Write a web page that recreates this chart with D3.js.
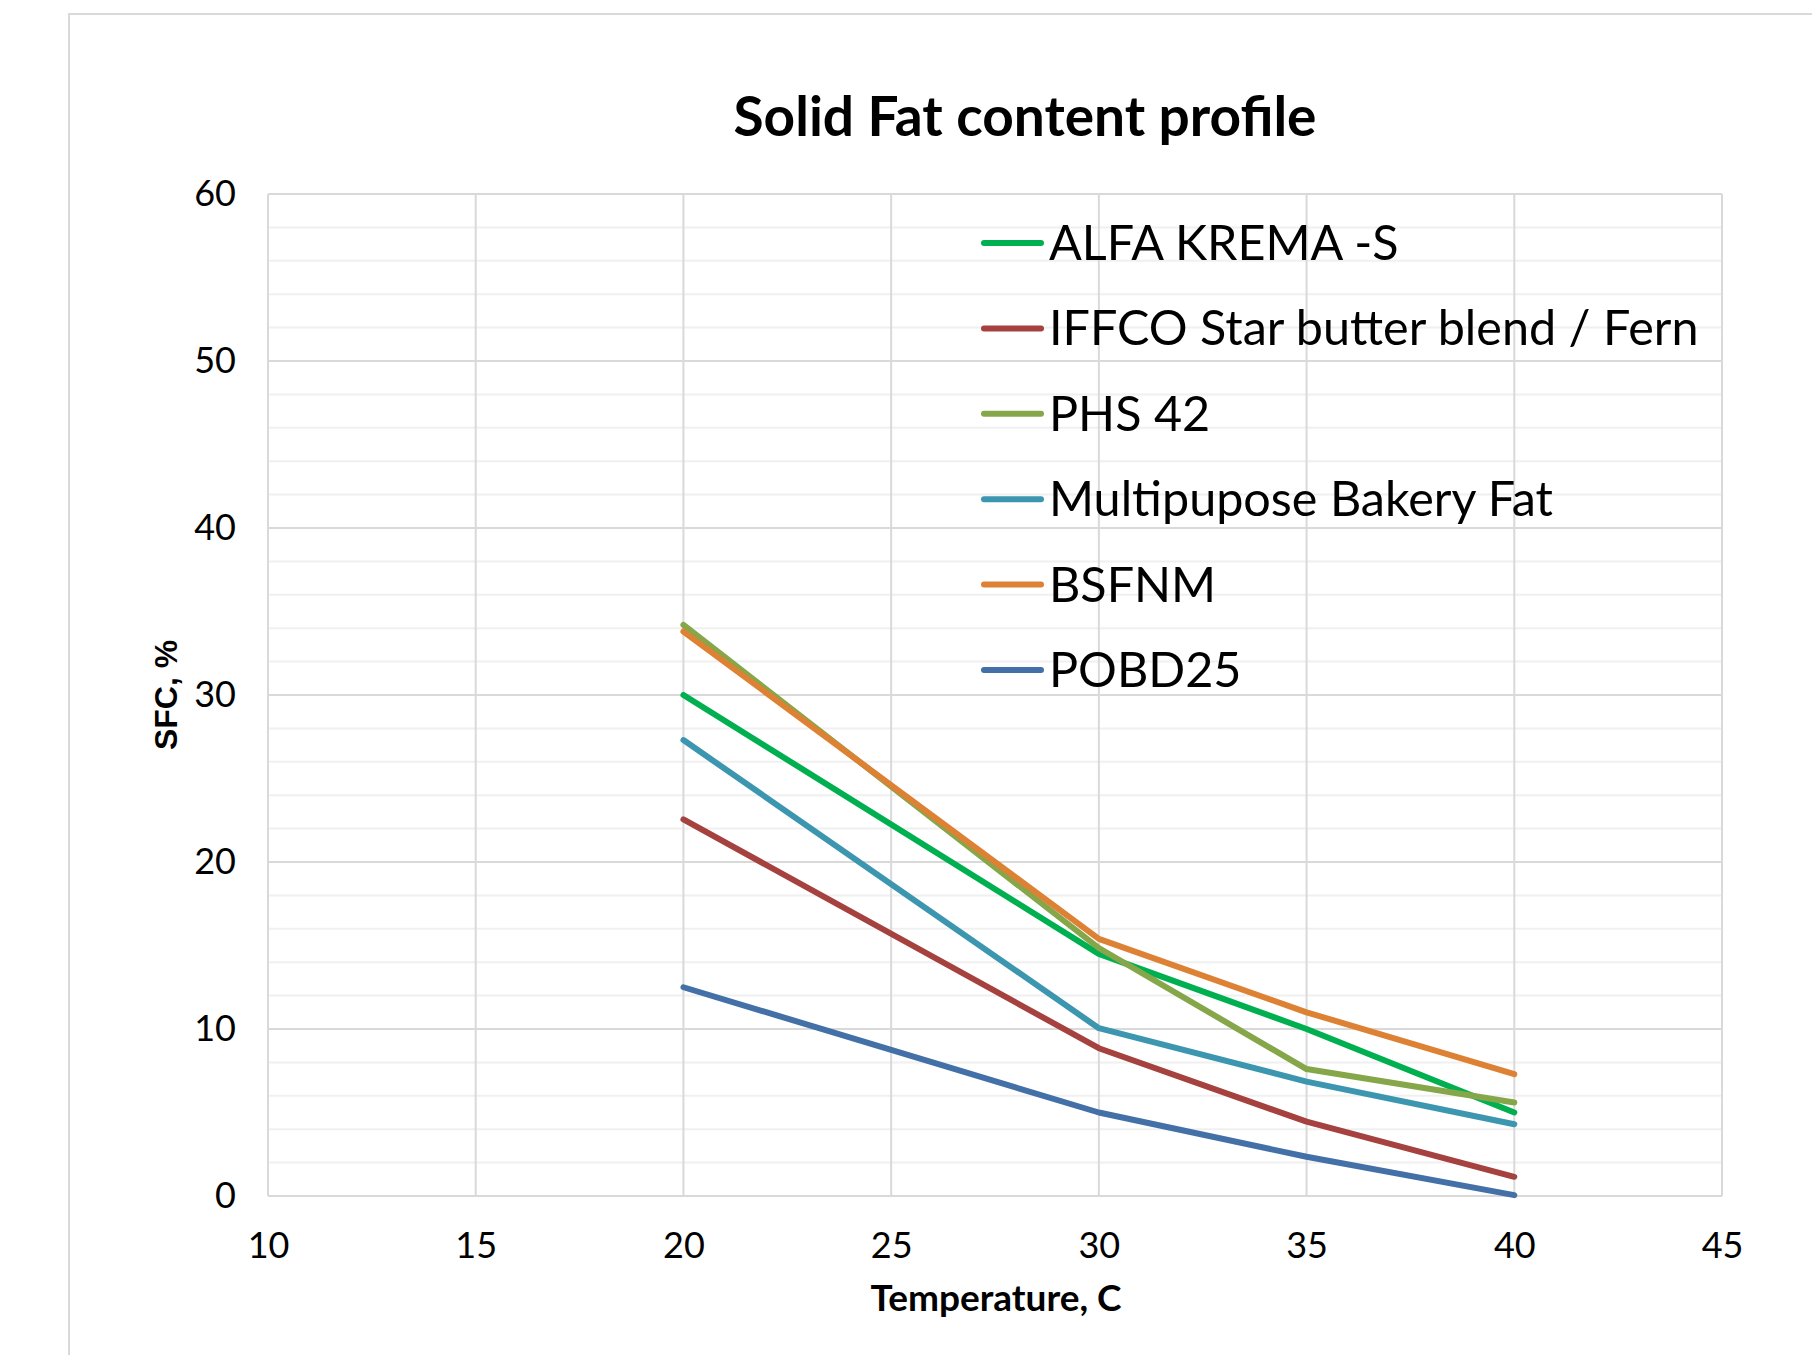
<!DOCTYPE html>
<html>
<head>
<meta charset="utf-8">
<script src="https://cdn.jsdelivr.net/npm/d3@7"></script>
<style>
  html, body { margin: 0; padding: 0; background: #fff; }
  svg { display: block; }
</style>
</head>
<body>
<svg id="chart" width="1812" height="1355"></svg>
<script>
const temperatures = [20, 30, 35, 40];
const seriesNames = ["ALFA KREMA -S", "IFFCO Star butter blend / Fern", "PHS 42", "Multipupose Bakery Fat", "BSFNM", "POBD25"];
const alfaKrema = [30.0, 14.5, 10.0, 5.0];
const iffcoStar = [22.55, 8.85, 4.45, 1.15];
const phs42 = [34.2, 14.85, 7.6, 5.6];
const multipurpose = [27.3, 10.05, 6.85, 4.3];
const bsfnm = [33.8, 15.4, 11.0, 7.3];
const pobd25 = [12.5, 5.0, 2.35, 0.05];
const seriesColors = ["#00B050", "#A5413E", "#86A64A", "#3C96AF", "#DD8234", "#4470A8"];
const xTicks = [10, 15, 20, 25, 30, 35, 40, 45];
const yTicks = [0, 10, 20, 30, 40, 50, 60];
const chartTitle = "Solid Fat content profile";
const xTitle = "Temperature, C";
const yTitle = "SFC, %";

(function () {
const seriesValues = [alfaKrema, iffcoStar, phs42, multipurpose, bsfnm, pobd25];
const series = seriesNames.map((name, i) => ({
  name, color: seriesColors[i],
  points: temperatures.map((t, j) => ({ x: t, y: seriesValues[i][j] }))
}));

const svg = d3.select("#chart");
const font = "Lato, 'Open Sans', sans-serif";

// chart area border
svg.append("path")
  .attr("d", "M69,1355 V14 H1812")
  .attr("fill", "none").attr("stroke", "#d9d9d9").attr("stroke-width", 2);

const pL = 268, pR = 1722, pT = 194, pB = 1196;
const x = d3.scaleLinear().domain([10, 45]).range([pL, pR]);
const y = d3.scaleLinear().domain([0, 60]).range([pB, pT]);

// minor gridlines
const minor = d3.range(0, 60.01, 2).filter(v => v % 10 !== 0);
svg.append("g").selectAll("line").data(minor).join("line")
  .attr("x1", pL).attr("x2", pR)
  .attr("y1", d => y(d)).attr("y2", d => y(d))
  .attr("stroke", "#f0f0f0").attr("stroke-width", 2);

// major gridlines horizontal
svg.append("g").selectAll("line").data(yTicks).join("line")
  .attr("x1", pL).attr("x2", pR)
  .attr("y1", d => y(d)).attr("y2", d => y(d))
  .attr("stroke", "#d9d9d9").attr("stroke-width", 2);

// vertical gridlines
svg.append("g").selectAll("line").data(xTicks).join("line")
  .attr("x1", d => x(d)).attr("x2", d => x(d))
  .attr("y1", pT).attr("y2", pB)
  .attr("stroke", "#d9d9d9").attr("stroke-width", 2);

// axes labels via d3 axes
const xAxis = svg.append("g").attr("transform", `translate(0,${pB})`)
  .call(d3.axisBottom(x).tickValues(xTicks).tickSize(0).tickPadding(36).tickFormat(d3.format("d")));
xAxis.select(".domain").remove();
xAxis.selectAll("text").attr("font-family", font).attr("font-size", 36).attr("fill", "#000");

const yAxis = svg.append("g").attr("transform", `translate(${pL},0)`)
  .call(d3.axisLeft(y).tickValues(yTicks).tickSize(0).tickPadding(32).tickFormat(d3.format("d")));
yAxis.select(".domain").remove();
yAxis.selectAll("text").attr("font-family", font).attr("font-size", 36).attr("fill", "#000");

// lines
const line = d3.line().x(d => x(d.x)).y(d => y(d.y));
svg.append("g").selectAll("path").data(series).join("path")
  .attr("d", d => line(d.points))
  .attr("fill", "none")
  .attr("stroke", d => d.color)
  .attr("stroke-width", 6)
  .attr("stroke-linecap", "round")
  .attr("stroke-linejoin", "round");

// title
svg.append("text").attr("x", 1025).attr("y", 136)
  .attr("text-anchor", "middle").attr("font-family", font)
  .attr("font-weight", "bold").attr("font-size", 55).text(chartTitle);

// axis titles
svg.append("text").attr("x", 996).attr("y", 1311)
  .attr("text-anchor", "middle").attr("font-family", font)
  .attr("font-weight", "bold").attr("font-size", 37).text(xTitle);

svg.append("text").attr("transform", "translate(177,695) rotate(-90)")
  .attr("text-anchor", "middle").attr("font-family", "'Liberation Sans', Arial, sans-serif")
  .attr("font-weight", "bold").attr("font-size", 32).text(yTitle);

// legend
const legend = svg.append("g");
const rowY = d3.scaleLinear().domain([0, 5]).range([243, 670]);
const rows = legend.selectAll("g").data(series).join("g")
  .attr("transform", (d, i) => `translate(0,${rowY(i)})`);
rows.append("line").attr("x1", 984).attr("x2", 1041).attr("y1", 0).attr("y2", 0)
  .attr("stroke", d => d.color).attr("stroke-width", 6).attr("stroke-linecap", "round");
rows.append("text").attr("x", 1049).attr("y", 0).attr("dy", "0.35em")
  .attr("font-family", font).attr("font-size", 48.5).attr("fill", "#000")
  .text(d => d.name);
})();
</script>
</body>
</html>
